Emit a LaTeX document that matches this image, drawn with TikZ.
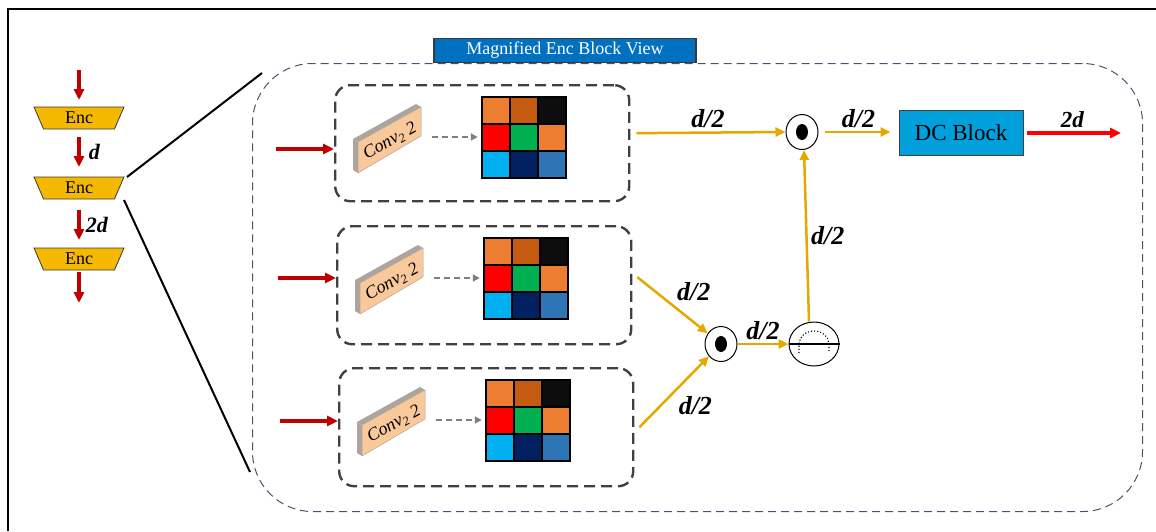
\documentclass[tikz,border=0pt]{standalone}
\usepackage{fontspec}
\setmainfont{Liberation Serif}
\usetikzlibrary{shapes.geometric,arrows.meta,positioning}

\definecolor{encgold}{HTML}{F5B800}
\definecolor{encline}{HTML}{3A3A3A}
\definecolor{darkred}{HTML}{C00000}
\definecolor{brightred}{HTML}{FF0000}
\definecolor{goldline}{HTML}{E4A800}
\definecolor{slateblue}{HTML}{44546A}
\definecolor{titleblue}{HTML}{0070C0}
\definecolor{dcblue}{HTML}{00A0DD}
\definecolor{boxgray}{HTML}{404040}
\definecolor{arrgray}{HTML}{7F7F7F}
\definecolor{convfill}{HTML}{F9C89B}
\definecolor{slabside}{HTML}{ACA59E}
\definecolor{orng}{HTML}{ED7D31}
\definecolor{dkorng}{HTML}{C55A11}
\definecolor{blk}{HTML}{0D0D0D}
\definecolor{rd}{HTML}{FF0000}
\definecolor{grn}{HTML}{00B050}
\definecolor{ltblu}{HTML}{00B0F0}
\definecolor{navy}{HTML}{002060}
\definecolor{blu}{HTML}{2E75B6}

\begin{document}
\begin{tikzpicture}[x=1pt,y=-1pt]
	\tikzstyle{enc} = [trapezium,shape border rotate=180,trapezium stretches body=true,trapezium left angle=51.5,trapezium right angle=51.5,minimum width=90pt,minimum height=22pt,inner sep=0pt,fill=encgold,draw=encline,line width=0.8pt,font=\fontsize{18}{20}\selectfont]
	\tikzstyle{redarr} = [-{Triangle[length=11pt,width=10pt]},darkred,line width=3.2pt]
	\tikzstyle{goldarr} = [-{Triangle[length=10pt,width=9pt]},goldline,line width=2.5pt]
	\tikzstyle{grayarr} = [-{Triangle[length=7pt,width=7pt]},arrgray,line width=1.8pt,dash pattern=on 6pt off 4pt]
	\tikzstyle{blockbox} = [draw=boxgray,line width=2.4pt,dash pattern=on 11pt off 6pt,rounded corners=15pt,minimum width=294pt,inner sep=0pt]
	\tikzstyle{opnode} = [ellipse,draw,line width=1pt,minimum width=32pt,minimum height=35pt,inner sep=0pt]
	\tikzstyle{dlabel} = [text=black,font=\bfseries\itshape\fontsize{26}{28}\selectfont]
	
	\useasboundingbox (0,0) rectangle (1156,531);
	\draw[line width=1.2pt] (1156,9) -- (8,9) -- (8,531);
	
	% encoder stack
	\coordinate (top) at (79,70);
	\node[enc] (enc1) at (79,118) {Enc};
	\node[enc] (enc2) at (79,188) {Enc};
	\node[enc] (enc3) at (79,259) {Enc};
	\coordinate (bot) at (79,303);
	\draw[redarr] (top) -- ([yshift=18pt]enc1.center);
	\draw[redarr] ([yshift=-19pt]enc1.center) -- node[right=5pt,text=black,font=\bfseries\itshape\fontsize{22}{24}\selectfont]{d} ([yshift=21pt]enc2.center);
	\draw[redarr] ([yshift=-22pt]enc2.center) -- node[right=2pt,text=black,font=\bfseries\itshape\fontsize{22}{24}\selectfont]{2d} ([yshift=19pt]enc3.center);
	\draw[redarr] ([yshift=-13pt]enc3.center) -- (bot);
	
	% magnified view
	\node[draw=slateblue,line width=1pt,dash pattern=on 8pt off 5pt,rounded corners=60pt,minimum width=890pt,minimum height=448pt,anchor=north west] (magbox) at (252,63) {};
	\node[fill=titleblue,draw=encline,line width=1.2pt,minimum width=262pt,minimum height=24pt,inner sep=0pt,anchor=south,text=white,font=\fontsize{18}{20}\selectfont] (title) at (565,63) {Magnified Enc Block View};
	\coordinate (zt) at (262,73);
	\coordinate (zb) at (250,472);
	\draw[line width=2pt] ([shift={(48pt,11pt)}]enc2.center) -- (zt);
	\draw[line width=2pt] ([shift={(45pt,-12pt)}]enc2.center) -- (zb);
	
	\foreach \i/\bx/\by/\bh/\ry in {1/334/84/116/65, 2/336/225/118/53, 3/338/367/118/54}{
		\node[blockbox,minimum height=\bh pt,anchor=north west] (box\i) at (\bx,\by) {};
		\begin{scope}[shift={(\bx,\by)}]
			\fill[slabside] (24,89) -- (24,58) -- (19,55) -- (19,86) -- cycle;
			\fill[slabside] (24,58) -- (87,23) -- (82,20) -- (19,55) -- cycle;
			\filldraw[fill=convfill,draw=slabside,line width=0.5pt] (24,58) -- (87,23) -- (87,52) -- (24,89) -- cycle;
			\node[rotate=29,inner sep=0pt,font=\itshape\fontsize{18}{20}\selectfont] (conv\i) at (56,57) {Conv\textsubscript{2} 2};
			\node[minimum width=84pt,minimum height=81pt,inner sep=0pt] (grid\i) at (190,53.5) {};
			\foreach \r/\ca/\cb/\cc in {0/orng/dkorng/blk, 1/rd/grn/orng, 2/ltblu/navy/blu}{
				\filldraw[fill=\ca,draw=black,line width=1.2pt] (148,13+27*\r) rectangle ++(28,27);
				\filldraw[fill=\cb,draw=black,line width=1.2pt] (176,13+27*\r) rectangle ++(28,27);
				\filldraw[fill=\cc,draw=black,line width=1.2pt] (204,13+27*\r) rectangle ++(28,27);
			}
			\coordinate (cv\i) at (98,53);
			\coordinate (in\i) at (-58,\ry);
		\end{scope}
		\draw[grayarr] (cv\i) -- ([xshift=-4pt]cv\i -| grid\i.west);
		\draw[redarr] (in\i) -- (in\i -| box\i.west);
	}
	
	% merging
	\node[opnode] (odot1) at (802,132) {};
	\fill[black] (odot1.center) ellipse [x radius=6, y radius=8];
	\node[opnode] (odot2) at (721,344) {};
	\fill[black] (odot2.center) ellipse [x radius=6, y radius=8];
	\node[opnode,minimum width=50pt,minimum height=44pt] (meter) at (814,344) {};
	\draw[line width=1.8pt] (meter.west) -- (meter.east);
	\draw[dotted,line width=1.1pt] ([shift={(-15,9)}]meter.center) -- ++(0,-9) arc[start angle=180,end angle=360,x radius=15,y radius=13] -- ++(0,9);
	\node[fill=dcblue,draw=boxgray,line width=1pt,minimum width=124pt,minimum height=45pt,inner sep=0pt,font=\fontsize{23}{26}\selectfont] (dc) at (961,133) {DC Block};
	\coordinate (out) at (1121,133);
	
	\draw[goldarr,shorten <=6pt] ([yshift=10pt]box1.east) -- node[dlabel,above]{d/2} (odot1.west);
	\draw[goldarr,shorten <=6pt,shorten >=8pt] (odot1.east) -- node[dlabel,above]{d/2} (odot1.east -| dc.west);
	\draw[-{Triangle[length=11pt,width=10pt]},brightred,line width=3.2pt,shorten <=3pt] (dc.east) -- node[above,text=black,font=\bfseries\itshape\fontsize{23}{26}\selectfont]{2d} (out);
	\draw[goldarr] ([shift={(5pt,8pt)}]box2.east) -- node[dlabel,above right]{d/2} (odot2);
	\draw[goldarr] ([xshift=5pt]box3.east) -- node[dlabel,below right]{d/2} (odot2);
	\draw[goldarr] (odot2) -- node[dlabel,above]{d/2} (meter);
	\draw[goldarr] ([xshift=-5pt]meter.north) -- node[dlabel,right]{d/2} ([xshift=2pt]odot1.south);
	
\end{tikzpicture}
\end{document}
